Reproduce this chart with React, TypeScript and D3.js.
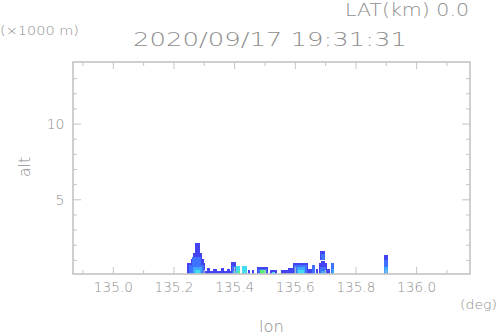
import React from "react";
import * as d3 from "d3";

const W = 498, H = 336;
const lonDomain: [number, number] = [134.867, 136.176];
const altDomain: [number, number] = [0.1, 14.1];
const xMajor = [135.0, 135.2, 135.4, 135.6, 135.8, 136.0];
const xMinor = [134.9, 135.1, 135.3, 135.5, 135.7, 135.9, 136.1];
const yMajor = [5, 10];
const yMinor = [1, 2, 3, 4, 6, 7, 8, 9, 11, 12, 13];
const levelColors = ["#4343f2", "#3f72ff", "#3fa8ff", "#44dcf0", "#5cf078"];

// echo segments: [lon0, lon1, alt0 (km), alt1 (km), level]
const echoes: [number, number, number, number, number][] = [
  [135.243, 135.303, 0, 0.85, 0],
  [135.255, 135.300, 0, 1.1, 0],
  [135.263, 135.292, 0, 1.5, 0],
  [135.268, 135.285, 0, 2.15, 0],
  [135.250, 135.298, 0, 0.72, 1],
  [135.258, 135.290, 0, 1.2, 1],
  [135.262, 135.292, 0, 0.55, 2],
  [135.268, 135.285, 0, 0.35, 3],
  [135.303, 135.392, 0, 0.28, 0],
  [135.310, 135.318, 0, 0.5, 0],
  [135.330, 135.342, 0, 0.45, 0],
  [135.355, 135.364, 0, 0.5, 0],
  [135.374, 135.384, 0, 0.42, 0],
  [135.388, 135.405, 0, 0.9, 0],
  [135.392, 135.405, 0, 0.6, 1],
  [135.396, 135.405, 0, 0.3, 2],
  [135.405, 135.418, 0, 0.62, 3],
  [135.410, 135.417, 0, 0.3, 4],
  [135.423, 135.440, 0, 0.6, 3],
  [135.443, 135.451, 0, 0.38, 0],
  [135.456, 135.465, 0, 0.38, 0],
  [135.473, 135.511, 0, 0.55, 0],
  [135.477, 135.507, 0, 0.45, 1],
  [135.484, 135.503, 0, 0.35, 4],
  [135.516, 135.539, 0, 0.35, 0],
  [135.522, 135.534, 0, 0.25, 3],
  [135.553, 135.564, 0, 0.38, 0],
  [135.564, 135.577, 0, 0.35, 0],
  [135.577, 135.593, 0, 0.5, 0],
  [135.593, 135.643, 0, 0.84, 0],
  [135.597, 135.640, 0, 0.7, 1],
  [135.606, 135.632, 0, 0.55, 2],
  [135.610, 135.628, 0, 0.35, 3],
  [135.643, 135.655, 0, 0.45, 0],
  [135.655, 135.665, 0, 0.7, 1],
  [135.667, 135.674, 0, 0.4, 0],
  [135.678, 135.703, 0, 0.82, 0],
  [135.684, 135.698, 0, 0.95, 0],
  [135.682, 135.700, 0, 0.55, 1],
  [135.686, 135.697, 0, 0.3, 2],
  [135.683, 135.699, 1.0, 1.6, 0],
  [135.686, 135.697, 1.05, 1.45, 1],
  [135.703, 135.714, 0, 0.45, 0],
  [135.718, 135.728, 0, 0.82, 1],
  [135.720, 135.726, 0, 0.4, 2],
  [135.835, 135.838, 0, 0.38, 0],
  [135.893, 135.905, 0.95, 1.37, 0],
  [135.891, 135.907, 0, 1.0, 1],
  [135.893, 135.905, 0, 0.55, 2],
];

export default function App() {
  const m = { left: 73, right: 470, top: 62, bottom: 274 };
  const x = d3.scaleLinear().domain(lonDomain).range([m.left, m.right]);
  const y = d3.scaleLinear().domain(altDomain).range([m.bottom, m.top]);
  const axisColor = "#c4c4c4";
  const textColor = "#8e8e8e";
  const font = "DejaVu Sans, sans-serif";
  const base = altDomain[0];

  return (
    <svg width={W} height={H} style={{ position: "absolute", left: 0, top: 0, background: "#fff" }}>
      <defs>
        <clipPath id="clip">
          <rect x={m.left} y={m.top} width={m.right - m.left} height={m.bottom - m.top} />
        </clipPath>
      </defs>
      {/* echoes */}
      <g clipPath="url(#clip)">
        {echoes.map(([l0, l1, a0, a1, lev], i) => {
          const y0 = y(Math.max(a0, base));
          const y1 = y(a1);
          return (
            <rect key={i} x={x(l0)} width={x(l1) - x(l0)} y={y1} height={y0 - y1}
              fill={levelColors[lev]} shapeRendering="crispEdges" />
          );
        })}
      </g>
      {/* frame */}
      <rect x={m.left} y={m.top} width={m.right - m.left} height={m.bottom - m.top}
        fill="none" stroke={axisColor} strokeWidth={1.6} />
      {/* x ticks bottom & top */}
      {xMajor.map((v) => (
        <g key={"xM" + v} stroke={axisColor} strokeWidth={1}>
          <line x1={x(v)} x2={x(v)} y1={m.bottom} y2={m.bottom - 7} />
          <line x1={x(v)} x2={x(v)} y1={m.top} y2={m.top + 7} />
        </g>
      ))}
      {xMinor.map((v) => (
        <g key={"xm" + v} stroke={axisColor} strokeWidth={1}>
          <line x1={x(v)} x2={x(v)} y1={m.bottom} y2={m.bottom - 4} />
          <line x1={x(v)} x2={x(v)} y1={m.top} y2={m.top + 4} />
        </g>
      ))}
      {/* y ticks left & right */}
      {yMajor.map((v) => (
        <g key={"yM" + v} stroke={axisColor} strokeWidth={1}>
          <line x1={m.left} x2={m.left + 8} y1={y(v)} y2={y(v)} />
          <line x1={m.right} x2={m.right - 8} y1={y(v)} y2={y(v)} />
        </g>
      ))}
      {yMinor.map((v) => (
        <g key={"ym" + v} stroke={axisColor} strokeWidth={1}>
          <line x1={m.left} x2={m.left + 4} y1={y(v)} y2={y(v)} />
          <line x1={m.right} x2={m.right - 4} y1={y(v)} y2={y(v)} />
        </g>
      ))}
      {/* tick labels */}
      <g fill={textColor} fontFamily={font} fontSize={14} fontWeight={200}>
        {xMajor.map((v) => (
          <text key={"xl" + v} x={x(v)} y={292} textAnchor="middle" textLength={39}
            lengthAdjust="spacingAndGlyphs">{v.toFixed(1)}</text>
        ))}
        {yMajor.map((v) => (
          <text key={"yl" + v} x={64.5} y={y(v) + 5} textAnchor="end">{String(v)}</text>
        ))}
      </g>
      {/* labels */}
      <g fill={textColor} fontFamily={font} fontWeight={200}>
        <text x={133} y={46} fontSize={20} textLength={274} lengthAdjust="spacingAndGlyphs">2020/09/17 19:31:31</text>
        <text x={345} y={16} fontSize={17.5} textLength={124} lengthAdjust="spacingAndGlyphs">LAT(km) 0.0</text>
        <text x={0} y={35} fontSize={11.5} textLength={79} lengthAdjust="spacingAndGlyphs">(×1000 m)</text>
        <text x={460} y={309} fontSize={12} textLength={37} lengthAdjust="spacingAndGlyphs">(deg)</text>
        <text x={259} y={332} fontSize={16} textLength={25} lengthAdjust="spacingAndGlyphs">lon</text>
        <text transform="translate(29.5,177) rotate(-90)" fontSize={15} textLength={20} lengthAdjust="spacingAndGlyphs">alt</text>
      </g>
    </svg>
  );
}
